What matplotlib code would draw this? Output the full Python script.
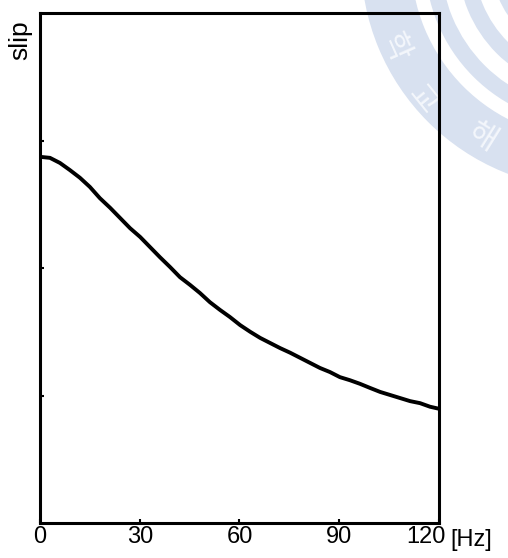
import matplotlib
matplotlib.use('Agg')
import matplotlib.pyplot as plt
import matplotlib.transforms as mtransforms
import numpy as np
from matplotlib.patches import Wedge

# frequency [Hz] and relative slip
freq = [0, 3.0, 6.0, 9.0, 12.0, 15.0, 18.0, 21.1, 24.1, 27.1, 30.1, 33.1, 36.1, 39.1,
        42.1, 45.1, 48.1, 51.1, 54.1, 57.1, 60.2, 63.2, 66.2, 69.2, 72.2, 75.2, 78.2,
        81.2, 84.2, 87.2, 90.2, 93.2, 96.2, 99.2, 102.3, 105.3, 108.3, 111.3, 114.3,
        117.3, 120]
slip = [0.718, 0.716, 0.706, 0.692, 0.677, 0.659, 0.637, 0.618, 0.598, 0.578, 0.561,
        0.541, 0.521, 0.502, 0.482, 0.467, 0.451, 0.433, 0.418, 0.404, 0.388, 0.375,
        0.363, 0.353, 0.343, 0.334, 0.324, 0.314, 0.304, 0.296, 0.286, 0.280, 0.273,
        0.265, 0.257, 0.251, 0.245, 0.239, 0.235, 0.228, 0.224]

xticks = [0, 30, 60, 90, 120]
xticklabels = ['0', '30', '60', '90', '120']

plt.rcParams['font.family'] = ['Liberation Sans', 'DejaVu Sans']

fig = plt.figure(figsize=(5.08, 5.58), dpi=100)

# faint watermark behind the chart (pixel coords)
bg = fig.add_axes([0, 0, 1, 1], zorder=0)
bg.set_xlim(0, 508)
bg.set_ylim(558, 0)
bg.axis('off')
wm = '#d8e1f0'
cx, cy = 590, -40
bg.add_patch(Wedge((cx, cy), 229, 0, 360, width=50, color=wm, lw=0))
for r, w in [(165, 16), (132, 16), (99, 16)]:
    bg.add_patch(Wedge((cx, cy), r, 0, 360, width=w, color=wm, lw=0))
for ch, (tx, ty), rot in [('학', (395, 48), -66), ('교', (422, 100), -51), ('해', (482, 138), -32)]:
    bg.text(tx, ty, ch, color='#f4f7fc', fontsize=22, rotation=rot,
            ha='center', va='center', family=['Noto Sans CJK KR', 'DejaVu Sans'])

ax = fig.add_axes([0.0787, 0.0627, 0.7855, 0.914], zorder=1)
ax.set_facecolor('none')
ax.plot(freq, slip, color='black', lw=2.8, solid_capstyle='round')

ax.set_xlim(0, 120)
ax.set_ylim(0, 1)
ax.set_xticks(xticks)
ax.set_xticklabels(xticklabels, fontsize=17)
ax.set_yticks([0.25, 0.5, 0.75])
ax.set_yticklabels([])
ax.tick_params(axis='both', direction='in', length=3, width=1.5, pad=2)
for s in ax.spines.values():
    s.set_linewidth(2.2)

# last label sits left of its tick, as in the scan
lab = ax.get_xticklabels()[-1]
lab.set_transform(lab.get_transform() + mtransforms.ScaledTranslation(-13 / 100, 0, fig.dpi_scale_trans))

ax.text(-0.02, 0.985, 'slip', transform=ax.transAxes, rotation=90,
        ha='right', va='top', fontsize=19)
ax.text(1.028, -0.012, '[Hz]', transform=ax.transAxes,
        ha='left', va='top', fontsize=17)

fig.savefig('out.png', dpi=100)
